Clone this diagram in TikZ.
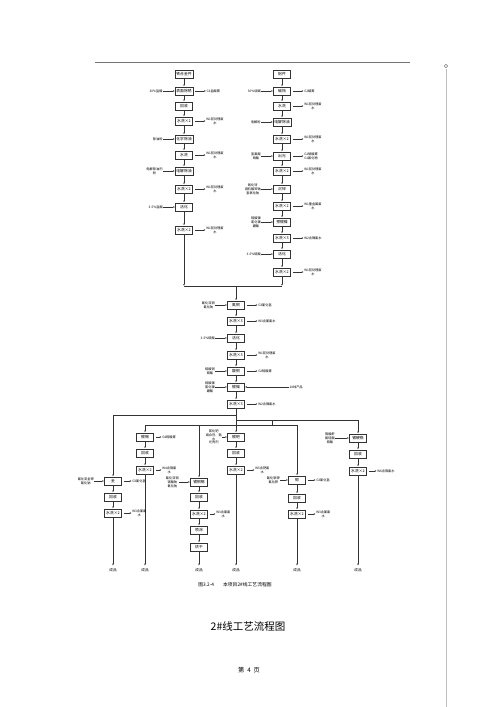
\documentclass[tikz,border=0pt]{standalone}
\usepackage{fontspec}
\setmainfont{Noto Sans CJK SC}
\usetikzlibrary{arrows.meta,positioning}
\begin{document}
\begin{tikzpicture}[x=1pt,y=-1pt,
  bx/.style={draw=black!80, line width=0.5pt, minimum width=17pt, minimum height=8.5pt, inner xsep=1.2pt, inner ysep=0pt, font=\fontsize{3.8}{4.5}\selectfont, fill=white},
  lbl/.style={font=\fontsize{3.2}{3.8}\selectfont, align=center, inner sep=0.3pt},
  ar/.style={-{Latex[length=2pt,width=1.6pt]}, line width=0.4pt, draw=black!80},
  ln/.style={line width=0.4pt, draw=black!80},
  outa/.style={ar, shorten <=2pt},
  pr/.style={font=\fontsize{3.6}{4.2}\selectfont, inner sep=0.5pt},
]
\fill[white] (0,0) rectangle (500,707);
\useasboundingbox (0,0) rectangle (500,707);
% page furniture
\draw[black!55, line width=0.6pt] (95,62) coordinate (hl) -- (410,62) coordinate (hr);
\draw[black!50, line width=0.5pt] (446,66) circle (1.8);
\draw[black!25, line width=0.3pt] (446,69) coordinate (vt) -- (446,707) coordinate (vb);

% ---------------- left column
\node[bx] (a1) at (184,74) {铁合金件};
\node[bx] (a2) at (184,91) {表面除锈};
\node[bx] (a3) at (184,106) {回收};
\node[bx] (a4) at (184,121) {水洗×2};
\node[bx] (a5) at (184,139) {化学除油};
\node[bx] (a6) at (184,155) {水洗};
\node[bx] (a7) at (184,171) {电解除油};
\node[bx] (a8) at (184,189) {水洗×2};
\node[bx] (a9) at (184,207) {活化};
\node[bx] (a10) at (184,230) {水洗×2};
\foreach \p/\q in {a1/a2,a2/a3,a3/a4,a4/a5,a5/a6,a6/a7,a7/a8,a8/a9,a9/a10}{\draw[ar] (\p) -- (\q);}
\node[lbl, left=12pt of a2] (a2i) {30\%盐酸}; \draw[ar] (a2i) -- (a2);
\node[lbl, left=12pt of a5] (a5i) {除油粉}; \draw[ar] (a5i) -- (a5);
\node[lbl, left=12pt of a7] (a7i) {电解除油剂\\粉}; \draw[ar] (a7i) -- (a7);
\node[lbl, left=12pt of a9] (a9i) {3-5\%盐酸}; \draw[ar] (a9i) -- (a9);
\node[lbl, right=13pt of a2] (a2o) {G1盐酸雾}; \draw[outa] (a2) -- (a2o);
\node[lbl, right=13pt of a4] (a4o) {W1前处理废\\水}; \draw[outa] (a4) -- (a4o);
\node[lbl, right=13pt of a6] (a6o) {W1前处理废\\水}; \draw[outa] (a6) -- (a6o);
\node[lbl, right=13pt of a8] (a8o) {W1前处理废\\水}; \draw[outa] (a8) -- (a8o);
\node[lbl, right=13pt of a10] (a10o) {W1前处理废\\水}; \draw[outa] (a10) -- (a10o);

% ---------------- right column
\node[bx] (b1) at (282,74) {铝件};
\node[bx] (b2) at (282,91) {碱蚀};
\node[bx] (b3) at (282,106) {水洗};
\node[bx] (b4) at (282,122) {电解除油};
\node[bx] (b5) at (282,139) {水洗×2};
\node[bx] (b6) at (282,156) {出光};
\node[bx] (b7) at (282,171) {水洗×2};
\node[bx] (b8) at (282,189) {沉锌};
\node[bx] (b9) at (282,206) {水洗×2};
\node[bx] (b10) at (282,222) {预镀镍};
\node[bx] (b11) at (282,238) {水洗×3};
\node[bx] (b12) at (282,254) {活化};
\node[bx] (b13) at (282,272) {水洗×2};
\foreach \p/\q in {b1/b2,b2/b3,b3/b4,b4/b5,b5/b6,b6/b7,b7/b8,b8/b9,b9/b10,b10/b11,b11/b12,b12/b13}{\draw[ar] (\p) -- (\q);}
\node[lbl, left=12pt of b2] (b2i) {30\%烧碱}; \draw[ar] (b2i) -- (b2);
\node[lbl, left=12pt of b4] (b4i) {电解粉}; \draw[ar] (b4i) -- (b4);
\node[lbl, left=12pt of b6] (b6i) {氢氟酸\\硝酸}; \draw[ar] (b6i) -- (b6);
\node[lbl, left=12pt of b8] (b8i) {氧化锌\\酒石酸钾钠\\氢氧化钠}; \draw[ar] (b8i) -- (b8);
\node[lbl, left=12pt of b10] (b10i) {硫酸镍\\氯化镍\\硼酸}; \draw[ar] (b10i) -- (b10);
\node[lbl, left=12pt of b12] (b12i) {3-5\%硫酸}; \draw[ar] (b12i) -- (b12);
\node[lbl, right=13pt of b2] (b2o) {G1碱雾}; \draw[outa] (b2) -- (b2o);
\node[lbl, right=13pt of b3] (b3o) {W1前处理废\\水}; \draw[outa] (b3) -- (b3o);
\node[lbl, right=13pt of b5] (b5o) {W1前处理废\\水}; \draw[outa] (b5) -- (b5o);
\node[lbl, right=13pt of b6] (b6o) {G1硝酸雾\\G1氟化物}; \draw[outa] (b6) -- (b6o);
\node[lbl, right=13pt of b7] (b7o) {W1前处理废\\水}; \draw[outa] (b7) -- (b7o);
\node[lbl, right=13pt of b9] (b9o) {W1重金属废\\水}; \draw[outa] (b9) -- (b9o);
\node[lbl, right=13pt of b11] (b11o) {W2含镍废水}; \draw[outa] (b11) -- (b11o);
\node[lbl, right=13pt of b13] (b13o) {W1前处理废\\水}; \draw[outa] (b13) -- (b13o);

% ---------------- merge
\coordinate (mL) at (184,286);
\coordinate (mR) at (282,286);
\coordinate (mC) at (236,286);
\draw[ar] (a10) -- (mL);
\draw[ar] (b13) -- (mR);
\draw[ln] (mL) -- (mR);

% ---------------- middle column
\node[bx] (c1) at (236,305) {氰铜};
\node[bx] (c2) at (236,321) {水洗×3};
\node[bx] (c3) at (236,338) {活化};
\node[bx] (c4) at (236,355) {水洗×3};
\node[bx] (c5) at (236,371) {酸铜};
\node[bx] (c6) at (236,387) {镀镍};
\node[bx] (c7) at (236,404) {水洗×3};
\draw[ar] (mC) -- (c1);
\foreach \p/\q in {c1/c2,c2/c3,c3/c4,c4/c5,c5/c6,c6/c7}{\draw[ar] (\p) -- (\q);}
\node[lbl, left=12pt of c1] (c1i) {氰化亚铜\\氰化钠}; \draw[ar] (c1i) -- (c1);
\node[lbl, left=12pt of c3] (c3i) {3-5\%硫酸}; \draw[ar] (c3i) -- (c3);
\node[lbl, left=12pt of c5] (c5i) {硫酸铜\\硫酸}; \draw[ar] (c5i) -- (c5);
\node[lbl, left=12pt of c6] (c6i) {硫酸镍\\氯化镍\\硼酸}; \draw[ar] (c6i) -- (c6);
\node[lbl, right=13pt of c1] (c1o) {G3氰化氢}; \draw[outa] (c1) -- (c1o);
\node[lbl, right=13pt of c2] (c2o) {W3含氰废水}; \draw[outa] (c2) -- (c2o);
\node[lbl, right=13pt of c4] (c4o) {W1前处理废\\水}; \draw[outa] (c4) -- (c4o);
\node[lbl, right=13pt of c5] (c5o) {G2硫酸雾}; \draw[outa] (c5) -- (c5o);
\node[lbl, anchor=west] (c6p) at (289,387) {1\#线产品}; \draw[ar] (c6p) -- (c6);
\node[lbl, right=13pt of c7] (c7o) {W2含镍废水}; \draw[outa] (c7) -- (c7o);

% ---------------- bottom branches
\node[bx] (d1) at (113,481) {金};
\node[bx] (d2) at (113,497) {回收};
\node[bx] (d3) at (113,513) {水洗×2};
\node[bx] (f1) at (145,437) {镀锡};
\node[bx] (f2) at (145,453) {回收};
\node[bx] (f3) at (145,470) {水洗×2};
\node[bx] (g1) at (199,482) {镀铜锡};
\node[bx] (g2) at (199,497) {回收};
\node[bx] (g3) at (199,514) {水洗×2};
\node[bx] (g4) at (199,530) {喷涂};
\node[bx] (g5) at (199,547) {烘干};
\node[bx] (h1) at (236,437) {镀钯};
\node[bx] (h2) at (236,453) {回收};
\node[bx] (h3) at (236,470) {水洗×2};
\node[bx] (k1) at (297,480) {银};
\node[bx] (k2) at (297,498) {回收};
\node[bx] (k3) at (297,514) {水洗×2};
\node[bx] (m1) at (358,438) {镀硬铬};
\node[bx] (m2) at (358,454) {回收};
\node[bx] (m3) at (358,471) {水洗×2};

\coordinate (j1) at (236,415);
\coordinate (j2) at (236,420);
\coordinate (j3) at (272,420);
\coordinate (j4) at (272,425);
\coordinate (jB) at (145,425);
\coordinate (jE) at (297,425);
\draw[ar] (c7) -- (h1);
\draw[ar] (j1) -| (d1);
\draw[ar] (j2) -| (m1);
\draw[ln] (j3) -- (j4);
\draw[ln] (jB) -- (jE);
\draw[ar] (jB) -- (f1);
\draw[ar] (g1 |- jB) -- (g1);
\draw[ar] (jE) -- (k1);
\foreach \p/\q in {d1/d2,d2/d3,f1/f2,f2/f3,g1/g2,g2/g3,g3/g4,g4/g5,h1/h2,h2/h3,k1/k2,k2/k3,m1/m2,m2/m3}{\draw[ar] (\p) -- (\q);}

\node[pr] (pA) at (113,570) {成品};
\node[pr] (pB) at (145,570) {成品};
\node[pr] (pC) at (199,570) {成品};
\node[pr] (pD) at (236,570) {成品};
\node[pr] (pE) at (297,570) {成品};
\node[pr] (pF) at (358,570) {成品};
\draw[ar, shorten >=2pt] (d3) -- (pA);
\draw[ar, shorten >=2pt] (f3) -- (pB);
\draw[ar, shorten >=2pt] (g5) -- (pC);
\draw[ar, shorten >=2pt] (h3) -- (pD);
\draw[ar, shorten >=2pt] (k3) -- (pE);
\draw[ar, shorten >=2pt] (m3) -- (pF);

\node[lbl, left=10pt of d1] (d1i) {氰化亚金钾\\氰化钠}; \draw[ar] (d1i) -- (d1);
\node[lbl, right=10pt of d1] (d1o) {G3氰化氢}; \draw[outa] (d1) -- (d1o);
\node[lbl, right=10pt of d3] (d3o) {W3含氰废\\水}; \draw[outa] (d3) -- (d3o);
\node[lbl, right=8pt of f1] (f1o) {G4硫酸雾}; \draw[outa] (f1) -- (f1o);
\node[lbl, right=8pt of f3] (f3o) {W4含锡废\\水}; \draw[outa] (f3) -- (f3o);
\node[lbl, left=11pt of g1] (g1i) {氰化亚铜\\锡酸钠\\氰化钠}; \draw[ar] (g1i) -- (g1);
\node[lbl, right=8pt of g3] (g3o) {W3含氰废\\水}; \draw[outa] (g3) -- (g3o);
\node[lbl, left=5pt of h1] (h1i) {氯化钯\\络合剂、氨\\水\\光亮剂}; \draw[ar] (h1i) -- (h1);
\node[lbl, right=10pt of h3] (h3o) {W5含钯废\\水}; \draw[outa] (h3) -- (h3o);
\node[lbl, left=8pt of k1] (k1i) {氰化银钾\\氰化钾}; \draw[ar] (k1i) -- (k1);
\node[lbl, right=10pt of k1] (k1o) {G3氰化氢}; \draw[outa] (k1) -- (k1o);
\node[lbl, right=10pt of k3] (k3o) {W3含氰废\\水}; \draw[outa] (k3) -- (k3o);
\node[lbl, left=14pt of m1] (m1i) {铬酸酐\\氟硅酸\\硫酸}; \draw[ar] (m1i) -- (m1);
\node[lbl, right=10pt of m3] (m3o) {W6含铬废水}; \draw[outa] (m3) -- (m3o);

% ---------------- captions
\node[font=\fontsize{4.8}{5.5}\selectfont] (cap) at (235,585) {图3.2-4\hspace{9pt}本项目2\#线工艺流程图};
\node[font=\fontsize{10.5}{12}\selectfont] (ttl) at (248,626) {2\#线工艺流程图};
\node[font=\fontsize{6.2}{7}\selectfont] (pg) at (249,670) {第\hspace{3pt}4\hspace{3pt}页};
\end{tikzpicture}
\end{document}
